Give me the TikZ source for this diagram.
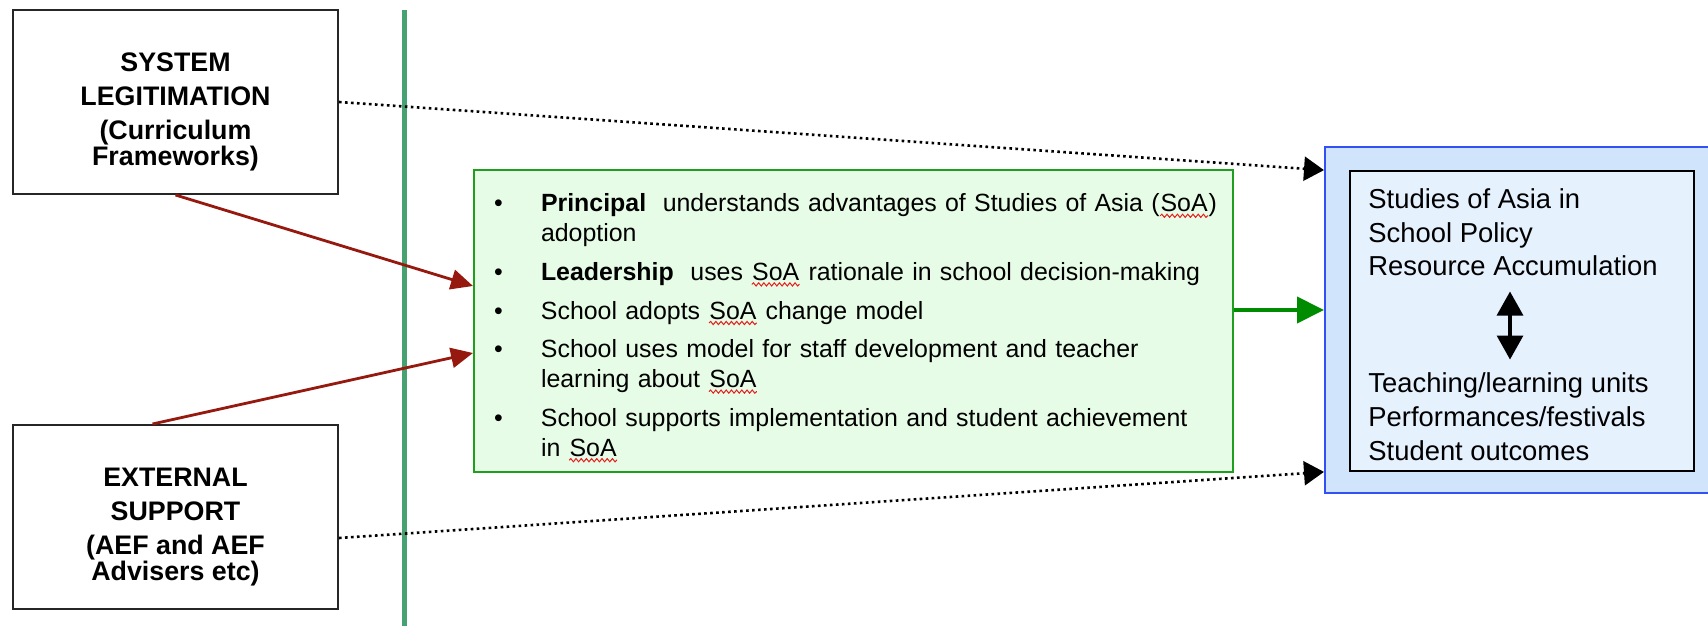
\documentclass[tikz,border=0pt]{standalone}
\usepackage{fontspec}
\setmainfont{Liberation Sans}
\usetikzlibrary{arrows.meta, positioning, calc, decorations.pathmorphing}
\definecolor{dividergreen}{RGB}{70, 162, 112}
\definecolor{arrowred}{RGB}{150, 25, 15}
\definecolor{arrowgreen}{RGB}{0, 140, 0}
\definecolor{boxgreen}{RGB}{30, 160, 30}
\definecolor{boxgreenfill}{RGB}{230, 252, 230}
\definecolor{boxblue}{RGB}{50, 80, 245}
\definecolor{boxbluefill}{RGB}{208, 228, 252}
\definecolor{innerfill}{RGB}{230, 241, 254}
\definecolor{squiggle}{RGB}{230, 30, 30}
\newcommand{\soa}{\tikz[baseline=(w.base), x=1pt, y=1pt]{\node[inner sep=0pt, text width=, minimum width=0pt, minimum height=0pt, align=left, draw=none, fill=none] (w) {SoA};
    \draw[squiggle, line width=0.5pt, decorate, decoration={snake, amplitude=0.8pt, segment length=2.6pt}] ([yshift=-2pt]w.base west) -- ([yshift=-2pt]w.base east);}}

\begin{document}
\begin{tikzpicture}[
    x=0.5pt, y=-0.5pt,
    node distance=114.5pt,
    sidebox/.style={rectangle, draw=black!85, line width=1pt, fill=white, minimum width=162.5pt, minimum height=92pt, align=center, font=\fontsize{13.4pt}{13pt}\selectfont\bfseries},
    stepsbox/.style={rectangle, draw=boxgreen, line width=1pt, fill=boxgreenfill, minimum width=379.5pt, minimum height=150pt, text width=359.5pt, inner xsep=10pt, align=left, font=\fontsize{12.45pt}{15pt}\selectfont},
    outerbox/.style={rectangle, draw=boxblue, line width=1pt, fill=boxbluefill, minimum width=193.5pt, minimum height=173pt},
    innerbox/.style={rectangle, draw=black, line width=0.9pt, fill=innerfill, minimum width=172pt, minimum height=150pt},
    listtext/.style={inner sep=0pt, align=left, font=\fontsize{13.7pt}{16.9pt}\selectfont},
    divider/.style={line width=2.5pt, dividergreen},
    feedarrow/.style={-{Triangle[length=11pt, width=10pt]}, line width=1.4pt, arrowred},
    linkarrow/.style={-{Triangle[length=10pt, width=12pt]}, line width=1.3pt, dash pattern=on 1.3pt off 1.7pt},
    mainarrow/.style={-{Triangle[length=13.5pt, width=13pt]}, line width=2pt, arrowgreen},
    bothway/.style={{Triangle[length=12pt, width=13pt]}-{Triangle[length=12pt, width=13pt]}, line width=1.6pt}
]
\useasboundingbox (0,0) rectangle (1708,626);

% left column
\node[sidebox] (sys) at (175.5,102) {\rule{0pt}{19pt}SYSTEM\\[4pt]LEGITIMATION\\[4pt](Curriculum\\Frameworks)};
\node[sidebox, below=of sys] (ext) {\rule{0pt}{19pt}EXTERNAL\\[4pt]SUPPORT\\[4pt](AEF and AEF\\Advisers etc)};

\draw[divider] (404,10) -- (404,626);

% school steps
\node[stepsbox] (gbox) at (853.5,321) {\noindent\begin{tabular}{@{}p{23.5pt}@{}l@{}}
\textbullet & \rule{0pt}{17.5pt}\textbf{Principal}~ understands advantages of Studies of Asia (\soa)\\
 & adoption\\[4.3pt]
\textbullet & \textbf{Leadership}~ uses \soa{} rationale in school decision-making\\[4.3pt]
\textbullet & School adopts \soa{} change model\\[4.3pt]
\textbullet & School uses model for staff development and teacher\\
 & learning about \soa\\[4.3pt]
\textbullet & School supports implementation and student achievement\\
 & in \soa
\end{tabular}};

% outcomes
\node[outerbox] (outcome) at (1518.5,320) {};
\node[innerbox] (inner) at (1522,321) {};
\node[listtext, anchor=north west] (goals) at (1368,188) {Studies of Asia in\\School Policy\\Resource Accumulation};
\node[listtext, below=48pt of goals.south west, anchor=north west] (practice) {Teaching/learning units\\Performances/festivals\\Student outcomes};
\draw[bothway, shorten <=7.5pt, shorten >=6.5pt] ([xshift=71pt]goals.south west) -- ([xshift=71pt]practice.north west);

\draw[feedarrow] (sys.south) -- ([yshift=17.5pt]gbox.west);
\draw[feedarrow] ([xshift=-11.5pt]ext.north) -- ([yshift=-16pt]gbox.west);
\draw[linkarrow] (sys.east) -- (outcome.west |- inner.north);
\draw[linkarrow] ([yshift=-10.5pt]ext.east) -- (outcome.west |- inner.south);
\draw[mainarrow] ([yshift=5.5pt]gbox.east) -- ([yshift=5.5pt]gbox.east -| outcome.west);
\end{tikzpicture}
\end{document}
